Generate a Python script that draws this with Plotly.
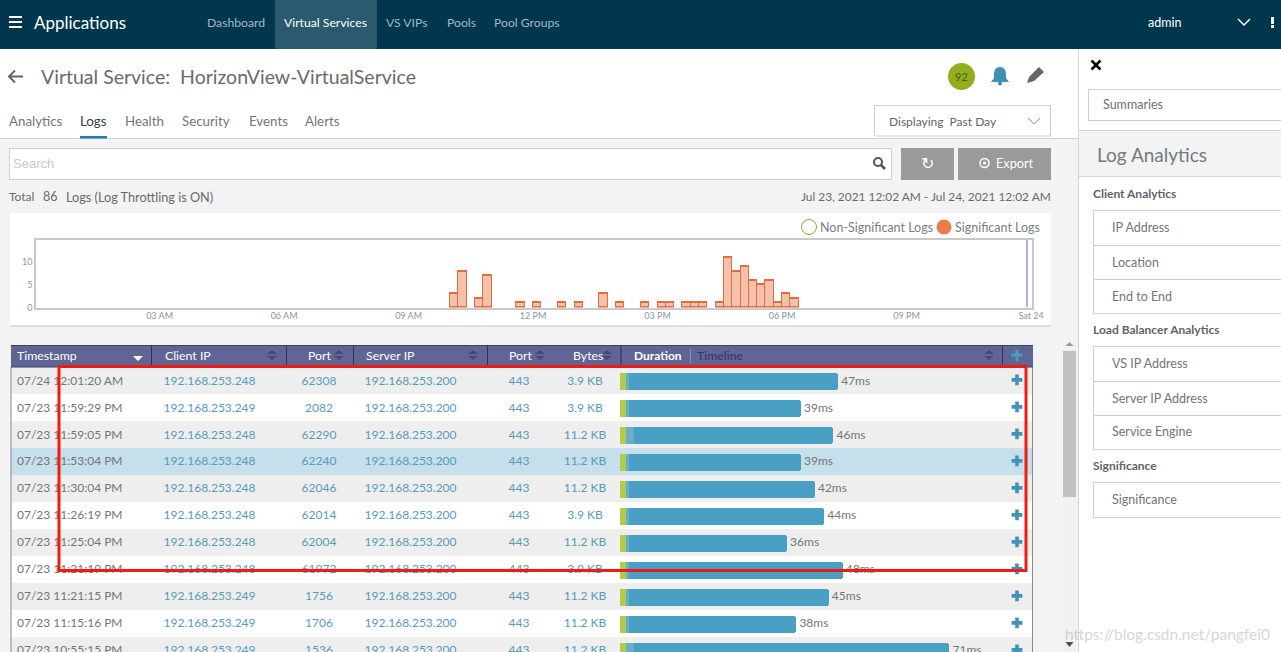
import re
import plotly.graph_objects as go

# histogram: one value per 12 minute bin
bin_times = ["2021-07-23 10:06", "2021-07-23 10:18", "2021-07-23 10:42", "2021-07-23 10:54",
             "2021-07-23 11:42", "2021-07-23 12:06", "2021-07-23 12:42", "2021-07-23 13:06",
             "2021-07-23 13:42", "2021-07-23 14:06", "2021-07-23 14:42", "2021-07-23 15:06",
             "2021-07-23 15:18", "2021-07-23 15:42", "2021-07-23 15:54", "2021-07-23 16:06",
             "2021-07-23 16:30", "2021-07-23 16:42", "2021-07-23 16:54", "2021-07-23 17:06",
             "2021-07-23 17:18", "2021-07-23 17:30", "2021-07-23 17:42", "2021-07-23 17:54",
             "2021-07-23 18:06", "2021-07-23 18:18"]
bin_counts = [3, 8, 2, 7, 1, 1, 1, 1, 3, 1, 1, 1, 1, 1, 1, 1, 1, 11, 8, 9, 6, 5, 6, 1, 3, 2]
hist_ticks = ["2021-07-23 03:00", "2021-07-23 06:00", "2021-07-23 09:00", "2021-07-23 12:00",
              "2021-07-23 15:00", "2021-07-23 18:00", "2021-07-23 21:00", "2021-07-24 00:00"]
hist_labels = ["03 AM", "06 AM", "09 AM", "12 PM", "03 PM", "06 PM", "09 PM", "Sat 24"]
now_time = "2021-07-23 23:54"

# log table
rows = [0, 1, 2, 3, 4, 5, 6, 7, 8, 9, 10]
timestamps = ["07/24 12:01:20 AM", "07/23 11:59:29 PM", "07/23 11:59:05 PM", "07/23 11:53:04 PM",
              "07/23 11:30:04 PM", "07/23 11:26:19 PM", "07/23 11:25:04 PM", "07/23 11:21:19 PM",
              "07/23 11:21:15 PM", "07/23 11:15:16 PM", "07/23 10:55:15 PM"]
client_ips = ["192.168.253.248", "192.168.253.249", "192.168.253.248", "192.168.253.248",
              "192.168.253.248", "192.168.253.248", "192.168.253.248", "192.168.253.248",
              "192.168.253.249", "192.168.253.249", "192.168.253.249"]
client_ports = ["62308", "2082", "62290", "62240", "62046", "62014", "62004", "61972", "1756", "1706", "1536"]
server_ips = ["192.168.253.200"] * 11
server_ports = ["443"] * 11
sizes = ["3.9 KB", "3.9 KB", "11.2 KB", "11.2 KB", "11.2 KB", "3.9 KB", "11.2 KB", "3.9 KB",
         "11.2 KB", "11.2 KB", "11.2 KB"]
row_colors = ["#eeeeee", "#ffffff", "#eeeeee", "#c5dfeb", "#eeeeee", "#ffffff", "#eeeeee", "#ffffff",
              "#eeeeee", "#ffffff", "#eeeeee"]

# duration segments in ms
client_ms = [1.2, 1.2, 1.2, 1.2, 1.2, 1.2, 1.2, 1.2, 1.2, 1.2, 1.2]
server_ms = [0.8, 0.8, 1.9, 0.8, 0.8, 0.8, 0.8, 0.8, 0.8, 0.8, 1.9]
app_ms = [45.0, 37.0, 42.9, 37.0, 40.0, 42.0, 34.0, 46.0, 43.0, 36.0, 67.9]
total_ms = [47, 39, 46, 39, 42, 44, 36, 48, 45, 38, 71]

W, H = 1281, 652
FONT = "Lato"
GREY = "#757575"
LINK = "#559cbb"
BORDER = "#cfcfcf"

shapes = []
annotations = []


def rect(x0, y0, x1, y1, fill, line=None, width=1, layer="below"):
    shapes.append(dict(type="rect", xref="paper", yref="paper", x0=x0 / W, x1=x1 / W,
                       y0=1 - y0 / H, y1=1 - y1 / H, fillcolor=fill, layer=layer,
                       line=dict(color=line or fill, width=width if line else 0)))


def open_box(x0, y0, y1):
    # box that runs off the right edge of the page, so no right border
    rect(x0, y0, W, y1, "#ffffff")
    rect(x0, y0, W, y0 + 1, BORDER)
    rect(x0, y1, W, y1 + 1, BORDER)
    rect(x0, y0, x0 + 1, y1 + 1, BORDER)


def circle(cx, cy, r, fill, line=None, width=1):
    shapes.append(dict(type="circle", xref="paper", yref="paper", x0=(cx - r) / W, x1=(cx + r) / W,
                       y0=1 - (cy - r) / H, y1=1 - (cy + r) / H, fillcolor=fill, layer="below",
                       line=dict(color=line or fill, width=width if line else 0)))


def icon(path, fill=None, line=None, width=1):
    # path is written in page pixels, shapes want paper fractions
    nums = iter(re.findall(r"[A-Z]|-?\d+\.?\d*", path))
    out = []
    for tok in nums:
        if tok.isalpha():
            out.append(tok)
        else:
            out.append(f"{float(tok) / W:.5f},{1 - float(next(nums)) / H:.5f}")
    shapes.append(dict(type="path", xref="paper", yref="paper", path=" ".join(out), layer="below",
                       fillcolor=fill or "rgba(0,0,0,0)",
                       line=dict(color=line or fill, width=width if line else 0)))


def label(x, y, text, size=13, color=GREY, anchor="left", family=FONT):
    annotations.append(dict(xref="paper", yref="paper", x=x / W, y=1 - y / H, text=text, showarrow=False,
                            xanchor=anchor, yanchor="middle", borderpad=0, borderwidth=0,
                            font=dict(family=family, size=size, color=color)))


def sort_arrows(x, y=355, color="#444a78"):
    icon(f"M {x - 5} {y - 1} L {x + 5} {y - 1} L {x} {y - 5} Z", fill=color)
    icon(f"M {x - 5} {y + 1} L {x + 5} {y + 1} L {x} {y + 5} Z", fill=color)


# top bar
rect(0, 0, W, 49, "#00374f")
rect(275, 0, 377, 49, "#2b5a6e")
for y in (17, 22, 27):
    rect(9, y - 1, 22, y + 1, "#ffffff")
label(34, 22.5, "Applications", 17, "#ffffff")
for x, text, color in [(207, "Dashboard", "#a3b8c1"), (284, "Virtual Services", "#ffffff"),
                       (386, "VS VIPs", "#a3b8c1"), (447, "Pools", "#a3b8c1"), (494, "Pool Groups", "#a3b8c1")]:
    label(x, 22.5, text, 12.2, color)
label(1148, 22.5, "admin", 12.5, "#ffffff")
icon("M 1238 19 L 1244 25 L 1250 19", line="#ffffff", width=1.5)
rect(1271, 17, 1274, 24, "#ffffff")
rect(1271, 25, 1274, 28, "#ffffff")

# page header
rect(0, 49, 1078, 138, "#ffffff")
rect(0, 138, 1078, 139, "#c9d5d5")
icon("M 23 76.5 L 9 76.5 M 15 70.5 L 9 76.5 L 15 82.5", line="#666666", width=2)
label(41, 77, "Virtual Service:  HorizonView-VirtualService", 19.5, "#6a6a6a")
circle(961.5, 76.5, 13.5, "#93ae1c")
label(961.5, 77, "92", 11, "#4d5a1a", "center")
icon("M 1000 67 C 996 67 994 70 994 74 L 994 78 L 991 82 L 1009 82 L 1006 78 L 1006 74 C 1006 70 1004 67 1000 67 Z",
     fill="#3f8fb3")
circle(1000, 83.5, 2, "#3f8fb3")
icon("M 1027 83 L 1029 77 L 1039 67 L 1044 72 L 1034 81 Z", fill="#666666")
for x, text in [(9, "Analytics"), (80, "Logs"), (125, "Health"), (182, "Security"), (249, "Events"), (305, "Alerts")]:
    label(x, 121, text, 13.3, "#33444d" if text == "Logs" else "#757575")
rect(80, 136, 107, 138.5, "#1a7fa8")
rect(874.5, 105.5, 1050.5, 136, "#ffffff", BORDER)
label(889, 121, "Displaying  Past Day", 12, "#5b6570")
icon("M 1028 118 L 1034 124 L 1040 118", line="#9a9a9a", width=1)

# search row
rect(9.5, 148.5, 891.5, 179.5, "#ffffff", BORDER)
label(13, 163, "Search", 13, "#c9c9c9", family="Liberation Sans")
circle(878, 162, 4, "rgba(0,0,0,0)", "#555555", 2)
icon("M 881 165 L 885 169", line="#555555", width=2.5)
rect(901, 148, 954, 180, "#9a9a9a")
label(927.5, 163, "↻", 16, "#ffffff", "center", "DejaVu Sans")
rect(958, 148, 1051, 180, "#9a9a9a")
circle(984.5, 163, 4.5, "rgba(0,0,0,0)", "#ffffff", 1.5)
circle(984.5, 163, 1.5, "#ffffff")
label(996, 163, "Export", 12.7, "#ffffff")
label(9, 197, "Total", 12, "#6a6a6a")
label(43, 197, "86", 12.5, "#6a6a6a")
label(66, 197, "Logs (Log Throttling is ON)", 12.7, "#6a6a6a")
label(1051, 197, "Jul 23, 2021 12:02 AM - Jul 24, 2021 12:02 AM", 11.9, "#6a6a6a", "right")

# histogram card
rect(10, 325, 1051, 327, "#dddddd")
rect(10, 213, 1051, 325, "#ffffff")
circle(809, 227, 7.5, "#ffffff", "#8fa83a", 1)
label(820, 227, "Non-Significant Logs", 12.5, "#757f82")
circle(944, 227, 7.5, "#ee7a4a")
label(955, 227, "Significant Logs", 12.5, "#757f82")

# table
rect(11, 345, 1033, 367, "#5f6594")
for i, color in zip(rows, row_colors):
    rect(11, 367 + 27 * i, 1033, 394 + 27 * i, color)
rect(10.5, 367, 11.5, H, "#8a8a8a")
rect(1032, 367, 1033, H, "#8a8a8a")
rect(11, 345, 1033, 346, "#3d4269")
rect(11, 366.5, 1033, 367.5, "#3d4269")
for x in (151, 286, 353, 487, 620.5, 1002):
    rect(x, 345, x + 1, 367, "#2f3358")
for x, text in [(17, "Timestamp"), (165, "Client IP"), (308, "Port"), (366, "Server IP"), (509, "Port"), (572.5, "Bytes")]:
    label(x, 355.5, text, 12.3, "#ffffff")
label(634, 355.5, "<b>Duration</b>", 12, "#ffffff")
rect(690, 349, 691, 363, "#8d92b5")
label(697, 355.5, "Timeline", 12.3, "#33385f")
icon("M 133 356 L 143 356 L 138 361 Z", fill="#ffffff")
for x in (272, 339, 473, 540, 607, 989):
    sort_arrows(x)
rect(1015.5, 349.5, 1018.5, 361, "#4a9cc0")
rect(1011.5, 353.5, 1022.5, 356.5, "#4a9cc0")

# scrollbar
rect(1063, 345, 1076, H, "#f1f1f1")
rect(1063, 351, 1076, 497, "#c1c1c1")
icon("M 1065.5 346 L 1073.5 346 L 1069.5 342 Z", fill="#9a9a9a")
icon("M 1065.5 642 L 1073.5 642 L 1069.5 647 Z", fill="#505050")

# right panel
rect(1078, 49, W, H, "#ffffff")
rect(1078, 49, 1079, H, "#d4d4d4")
icon("M 1091.5 60.5 L 1100.5 69.5 M 1100.5 60.5 L 1091.5 69.5", line="#000000", width=2.5)
open_box(1088, 89, 120)
label(1103, 105, "Summaries", 12.5, "#6f6f6f")
rect(1079, 130, W, 176, "#f3f3f3")
rect(1079, 130, W, 131, "#d4d4d4")
rect(1079, 176, W, 177, "#d4d4d4")
label(1097, 154.5, "Log Analytics", 19, "#707c82")
for y, text in [(193.5, "Client Analytics"), (329.5, "Load Balancer Analytics"), (465.5, "Significance")]:
    label(1093, y, f"<b>{text}</b>", 12, "#5f6368")
for y0, y1, text in [(210, 245, "IP Address"), (245, 279, "Location"), (279, 313, "End to End"),
                     (346, 381, "VS IP Address"), (381, 415, "Server IP Address"), (415, 449, "Service Engine"),
                     (482, 517, "Significance")]:
    open_box(1093, y0, y1)
    label(1112, (y0 + y1) / 2, text, 12.5, "#757575")

# watermark and red annotation box
label(1065, 634, "https://blog.csdn.net/pangfei0", 15.5, "rgba(190,190,190,0.65)")
shapes.append(dict(type="rect", xref="paper", yref="paper", x0=59 / W, x1=1026 / W, y0=1 - 366.5 / H,
                   y1=1 - 570.5 / H, layer="above", line=dict(color="#f01c14", width=3)))

fig = go.Figure()

# histogram
fig.add_trace(go.Bar(x=bin_times, y=bin_counts, width=720000, xaxis="x", yaxis="y",
                     marker=dict(color="#f6c1ab", line=dict(color="#e06c40", width=1.2)), hoverinfo="skip"))
fig.add_trace(go.Scatter(x=[now_time, now_time], y=[0, 15], mode="lines", xaxis="x", yaxis="y",
                         line=dict(color="#b9a9d6", width=2), hoverinfo="skip"))

# duration bars
for values, color in [(client_ms, "#b0cc4a"), (server_ms, "#67aecb"), (app_ms, "#4aa0c4")]:
    fig.add_trace(go.Bar(x=values, y=rows, orientation="h", width=0.63, xaxis="x2", yaxis="y2",
                         marker=dict(color=color, line=dict(width=0), cornerradius=3), hoverinfo="skip"))
fig.add_trace(go.Scatter(x=total_ms, y=rows, text=[f" {v}ms" for v in total_ms], mode="text", xaxis="x2", yaxis="y2",
                         textposition="middle right", textfont=dict(family=FONT, size=12, color=GREY),
                         hoverinfo="skip"))

# table cells
for col_x, cells, color, pos in [(17, timestamps, GREY, "middle right"), (163.5, client_ips, LINK, "middle right"),
                                 (319, client_ports, LINK, "middle center"), (364.5, server_ips, LINK, "middle right"),
                                 (519, server_ports, LINK, "middle center"), (585, sizes, LINK, "middle center")]:
    fig.add_trace(go.Scatter(x=[col_x] * len(rows), y=rows, text=cells, mode="text", xaxis="x3", yaxis="y2",
                             textposition=pos, textfont=dict(family=FONT, size=12, color=color), hoverinfo="skip"))
fig.add_trace(go.Scatter(x=[1017] * len(rows), y=[r - 0.06 for r in rows], mode="markers", xaxis="x3", yaxis="y2",
                         marker=dict(symbol="cross", size=9, color="#3f93b8", line=dict(width=0)), hoverinfo="skip"))

fig.update_layout(
    width=W, height=H, margin=dict(l=0, r=0, t=0, b=0), autosize=False, showlegend=False,
    paper_bgcolor="#f3f3f3", plot_bgcolor="rgba(0,0,0,0)", barmode="stack", bargap=0,
    shapes=shapes, annotations=annotations,
    xaxis=dict(type="date", domain=[36 / W, 1032 / W], range=["2021-07-23 00:01:20", "2021-07-24 00:01:20"],
               tickmode="array", tickvals=hist_ticks, ticktext=hist_labels, showgrid=False, ticks="", automargin=False,
               ticklabelstandoff=-1, tickfont=dict(family=FONT, size=9, color="#8795a1"), showline=True,
               linecolor="#c8c8c8", linewidth=1.5, mirror=True, anchor="y", zeroline=False),
    yaxis=dict(domain=[1 - 307.5 / H, 1 - 239.5 / H], range=[0, 15], tickvals=[0, 5, 10], showgrid=False, ticks="",
               automargin=False, tickfont=dict(family=FONT, size=9, color="#8795a1"), showline=True,
               linecolor="#c8c8c8", linewidth=1.5, mirror=True, anchor="x", zeroline=False),
    xaxis2=dict(domain=[620 / W, 1002 / W], range=[0, 382 / 4.64], visible=False, anchor="y2", automargin=False),
    yaxis2=dict(domain=[0, 1 - 367 / H], range=[10.019, -0.537], visible=False, anchor="x2", automargin=False),
    xaxis3=dict(domain=[0, 1], range=[0, W], visible=False, anchor="y2", automargin=False),
)

fig.write_html("out.html", config=dict(displayModeBar=False),
               post_script="document.body.style.margin='0';document.body.style.overflow='hidden';")
